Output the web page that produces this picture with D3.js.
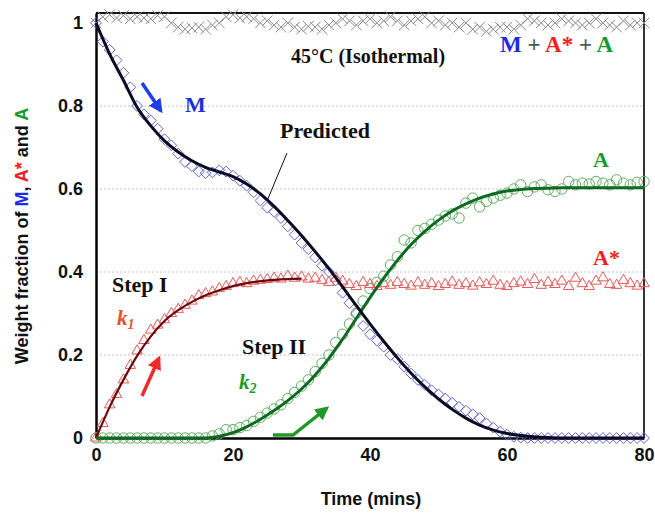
<!DOCTYPE html>
<html><head><meta charset="utf-8">
<script src="https://cdn.jsdelivr.net/npm/d3@7"></script>
<style>body{margin:0;background:#fff}svg{display:block}</style>
</head><body>
<svg id="c" width="655" height="516"></svg>
<script>
// ---- data ----
const times = [0,1,2,3,4,5,6,7,8,9,10,11,12,13,14,15,16,17,18,19,20,21,22,23,24,25,26,27,28,29,30,31,32,33,34,35,36,37,38,39,40,41,42,43,44,45,46,47,48,49,50,51,52,53,54,55,56,57,58,59,60,61,62,63,64,65,66,67,68,69,70,71,72,73,74,75,76,77,78,79,80];
const mObs = [1.00,0.955,0.935,0.91,0.88,0.845,0.80,0.78,0.765,0.745,0.72,0.705,0.685,0.665,0.655,0.642,0.638,0.64,0.645,0.642,0.632,0.62,0.608,0.592,0.572,0.555,0.545,0.53,0.51,0.49,0.47,0.455,0.435,0.415,0.40,0.38,0.35,0.325,0.30,0.27,0.25,0.235,0.22,0.2,0.19,0.172,0.155,0.14,0.128,0.115,0.105,0.095,0.085,0.075,0.066,0.057,0.048,0.035,0.025,0.015,0.008,0.003,0.001,0,0,0,0,0,0,0,0,0,0,0,0,0,0,0,0,0,0];
const aStarObs = [0,0.035,0.08,0.105,0.14,0.175,0.21,0.235,0.26,0.272,0.285,0.30,0.31,0.32,0.33,0.343,0.348,0.352,0.36,0.365,0.372,0.375,0.372,0.378,0.38,0.382,0.385,0.383,0.39,0.385,0.388,0.383,0.385,0.38,0.375,0.385,0.378,0.37,0.365,0.375,0.37,0.365,0.372,0.368,0.375,0.37,0.366,0.374,0.368,0.372,0.365,0.37,0.376,0.368,0.372,0.366,0.374,0.37,0.378,0.368,0.365,0.372,0.376,0.37,0.382,0.368,0.375,0.37,0.378,0.365,0.385,0.372,0.365,0.378,0.386,0.37,0.368,0.38,0.372,0.366,0.372];
const aObs = [0,0,0,0,0,0,0,0,0,0,0,0,0,0,0,0,0,0.005,0.01,0.02,0.02,0.025,0.03,0.04,0.05,0.06,0.07,0.08,0.095,0.11,0.125,0.14,0.16,0.18,0.20,0.23,0.25,0.275,0.30,0.33,0.36,0.375,0.39,0.417,0.437,0.477,0.47,0.50,0.505,0.515,0.525,0.535,0.54,0.53,0.566,0.578,0.557,0.57,0.578,0.585,0.59,0.60,0.61,0.594,0.605,0.61,0.598,0.594,0.60,0.618,0.61,0.614,0.612,0.618,0.614,0.61,0.622,0.614,0.61,0.616,0.618];
const totalObs = [1.0,1.015,1.02,1.012,1.018,1.01,1.015,1.012,1.01,1.018,1.015,1.0,0.99,0.985,0.988,0.99,0.985,0.995,1.0,1.015,1.02,1.012,1.015,1.01,1.0,1.005,0.995,0.99,1.0,0.99,0.985,0.992,0.99,0.985,0.995,1.0,1.01,1.005,0.995,1.005,1.01,1.0,1.005,1.015,1.005,0.995,1.005,1.01,1.015,1.0,1.005,0.995,1.0,0.99,1.0,0.985,0.99,0.98,0.985,0.99,0.99,0.985,0.995,1.01,1.005,1.0,0.995,1.0,1.01,1.005,1.0,0.995,1.0,1.01,1.0,0.995,0.99,1.005,0.995,1.0,1.0];
const predT = [0,2,4,6,8,10,12,14,16,18,20,22,24,26,28,30,32,34,36,38,40,42,44,46,48,50,52,54,56,58,60,62,64,66,68,70,72,74,76,78,80];
const mPred = [1.0,0.925,0.862,0.797,0.752,0.716,0.689,0.668,0.652,0.641,0.63,0.612,0.588,0.558,0.524,0.488,0.449,0.408,0.364,0.319,0.275,0.233,0.193,0.156,0.123,0.094,0.069,0.048,0.031,0.019,0.011,0.006,0.003,0.001,0,0,0,0,0,0,0];
const aPred = [0,0,0,0,0,0,0,0,0,0.004,0.013,0.027,0.045,0.066,0.09,0.118,0.152,0.192,0.238,0.288,0.338,0.385,0.428,0.466,0.498,0.525,0.547,0.564,0.578,0.588,0.595,0.599,0.601,0.602,0.603,0.603,0.603,0.603,0.603,0.603,0.603];
const aStarPredT = [0,2,4,6,8,10,12,14,16,18,20,22,24,26,28,30];
const aStarPred = [0,0.075,0.14,0.198,0.245,0.282,0.308,0.328,0.344,0.356,0.366,0.373,0.378,0.381,0.383,0.384];
const xTicks = [0,20,40,60,80];
const yTicks = [0,0.2,0.4,0.6,0.8,1];
const gridVals = [0.2,0.4,0.6,0.8];

// ---- chart ----
const svg = d3.select("#c");
const x = d3.scaleLinear().domain([0,80]).range([96,644]);
const y = d3.scaleLinear().domain([0,1.024]).range([438,13]);
const C = {blue:"#1a2ee0", red:"#ee2020", green:"#1a9a2a"};

svg.append("g").selectAll("line").data(gridVals).join("line")
  .attr("x1",x(0)).attr("x2",x(80)).attr("y1",d=>y(d)).attr("y2",d=>y(d))
  .attr("stroke","#c4c4c4").attr("stroke-width",1).attr("stroke-dasharray","2,2");

// frame
svg.append("line").attr("x1",x(0)).attr("x2",x(80)).attr("y1",y(1.024)).attr("y2",y(1.024)).attr("stroke","#111").attr("stroke-width",2);
svg.append("line").attr("x1",x(80)).attr("x2",x(80)).attr("y1",y(1.024)).attr("y2",y(0)).attr("stroke","#333").attr("stroke-width",2);

// axes
const xAxis = d3.axisBottom(x).tickValues(xTicks).tickSize(0).tickPadding(10).tickFormat(d3.format("d"));
const gx = svg.append("g").attr("transform",`translate(0,${y(0)})`).call(xAxis);
gx.select(".domain").attr("stroke","#000").attr("stroke-width",2.5);
gx.selectAll("text").attr("font-family","Liberation Sans, Arial, sans-serif").attr("font-weight","bold").attr("font-size",18).attr("fill","#111");
const yAxis = d3.axisLeft(y).tickValues(yTicks).tickSize(0).tickPadding(13).tickFormat(d=>d===0||d===1?d3.format("d")(d):d3.format(".1f")(d));
const gy = svg.append("g").attr("transform",`translate(${x(0)},0)`).call(yAxis);
gy.select(".domain").attr("stroke","#000").attr("stroke-width",2.5);
gy.selectAll("text").attr("font-family","Liberation Sans, Arial, sans-serif").attr("font-weight","bold").attr("font-size",18).attr("fill","#111");

// markers
const total = times.map((t,i)=>({t,v:totalObs[i]}));
const mD = times.map((t,i)=>({t,v:mObs[i]}));
const asD = times.map((t,i)=>({t,v:aStarObs[i]}));
const aD = times.map((t,i)=>({t,v:aObs[i]}));

svg.append("g").selectAll("path").data(total).join("path")
  .attr("d",d3.symbol(d3.symbolTimes).size(75))
  .attr("transform",d=>`translate(${x(d.t)},${y(d.v)})`)
  .attr("fill","none").attr("stroke","#8a8a8a").attr("stroke-width",1);

svg.append("g").selectAll("path").data(aD).join("path")
  .attr("d",d3.symbol(d3.symbolCircle).size(85))
  .attr("transform",d=>`translate(${x(d.t)},${y(d.v)})`)
  .attr("fill","none").attr("stroke","#5fae5f").attr("stroke-width",1);

svg.append("g").selectAll("path").data(mD).join("path")
  .attr("d",d3.symbol(d3.symbolDiamond2).size(75))
  .attr("transform",d=>`translate(${x(d.t)},${y(d.v)})`)
  .attr("fill","none").attr("stroke","#6262d6").attr("stroke-width",1);

svg.append("g").selectAll("path").data(asD).join("path")
  .attr("d",d3.symbol(d3.symbolTriangle2).size(80))
  .attr("transform",d=>`translate(${x(d.t)},${y(d.v)})`)
  .attr("fill","none").attr("stroke","#e85858").attr("stroke-width",1);

// predicted lines
const line = d3.line().x(d=>x(d[0])).y(d=>y(d[1])).curve(d3.curveMonotoneX);
svg.append("path").attr("d",line(aStarPredT.map((t,i)=>[t,aStarPred[i]])))
  .attr("fill","none").attr("stroke","#6a0a0a").attr("stroke-width",2.2);
svg.append("path").attr("d",line(predT.map((t,i)=>[t,aPred[i]])))
  .attr("fill","none").attr("stroke","#0e6a22").attr("stroke-width",3);
svg.append("path").attr("d",line(predT.map((t,i)=>[t,mPred[i]])))
  .attr("fill","none").attr("stroke","#0a0a22").attr("stroke-width",3);

// axis titles
svg.append("text").attr("x",371).attr("y",505).attr("text-anchor","middle")
  .attr("font-family","Liberation Sans, Arial, sans-serif").attr("font-weight","bold").attr("font-size",18).attr("fill","#111")
  .text("Time (mins)");
const yt = svg.append("text").attr("transform","translate(22,236) rotate(-90)").attr("text-anchor","middle")
  .attr("dominant-baseline","central")
  .attr("font-family","Liberation Sans, Arial, sans-serif").attr("font-weight","bold").attr("font-size",18).attr("fill","#111");
[["Weight fraction of ","#111"],["M",C.blue],[", ","#111"],["A*",C.red],[" and ","#111"],["A",C.green]]
  .forEach(([s,c])=>yt.append("tspan").attr("fill",c).text(s));

// annotations
const serif = "Liberation Serif, Times New Roman, serif";
function txt(s,xp,yp,size,color,opts={}){
  return svg.append("text").attr("x",xp).attr("y",yp).attr("font-family",serif)
    .attr("font-weight",opts.weight||"bold").attr("font-style",opts.style||"normal")
    .attr("font-size",size).attr("fill",color).text(s);
}
txt("45°C (Isothermal)",291,63,20,"#111");
const tot = svg.append("text").attr("x",500).attr("y",52).attr("font-family",serif).attr("font-weight","bold").attr("font-size",23);
[["M",C.blue],[" + ","#555"],["A*",C.red],[" + ","#555"],["A",C.green]].forEach(([s,c])=>tot.append("tspan").attr("fill",c).text(s));
txt("M",185,112,22,C.blue);
txt("Predicted",280,138,22,"#111");
txt("A",593,167,22,C.green);
txt("A*",593,265,22,C.red);
txt("Step I",112,292,22,"#111");
txt("Step II",242,354,22,"#111");
const k1 = txt("k",117,325,21,"#e8502a",{style:"italic"});
k1.append("tspan").attr("font-size",14).attr("dy",4).text("1");
const k2 = txt("k",239,389,21,C.green,{style:"italic"});
k2.append("tspan").attr("font-size",14).attr("dy",4).text("2");

// leader line
svg.append("line").attr("x1",287).attr("y1",153).attr("x2",267).attr("y2",201).attr("stroke","#111").attr("stroke-width",1);

// arrows
const defs = svg.append("defs");
function marker(id,color){
  defs.append("marker").attr("id",id).attr("viewBox","0 0 10 10").attr("refX",8).attr("refY",5)
    .attr("markerWidth",4).attr("markerHeight",4).attr("orient","auto")
    .append("path").attr("d","M0,0L10,5L0,10Z").attr("fill",color);
}
marker("ab","#1f3ee6"); marker("ar","#f02a2a"); marker("ag","#1f9a2a");
svg.append("path").attr("d","M142,83L161,111").attr("stroke","#1f3ee6").attr("stroke-width",3.5).attr("fill","none").attr("marker-end","url(#ab)");
svg.append("path").attr("d","M142,396L159,358").attr("stroke","#f02a2a").attr("stroke-width",3.5).attr("fill","none").attr("marker-end","url(#ar)");
svg.append("path").attr("d","M273,435L293,435L327,408").attr("stroke","#1f9a2a").attr("stroke-width",3.5).attr("fill","none").attr("marker-end","url(#ag)");
</script>
</body></html>
